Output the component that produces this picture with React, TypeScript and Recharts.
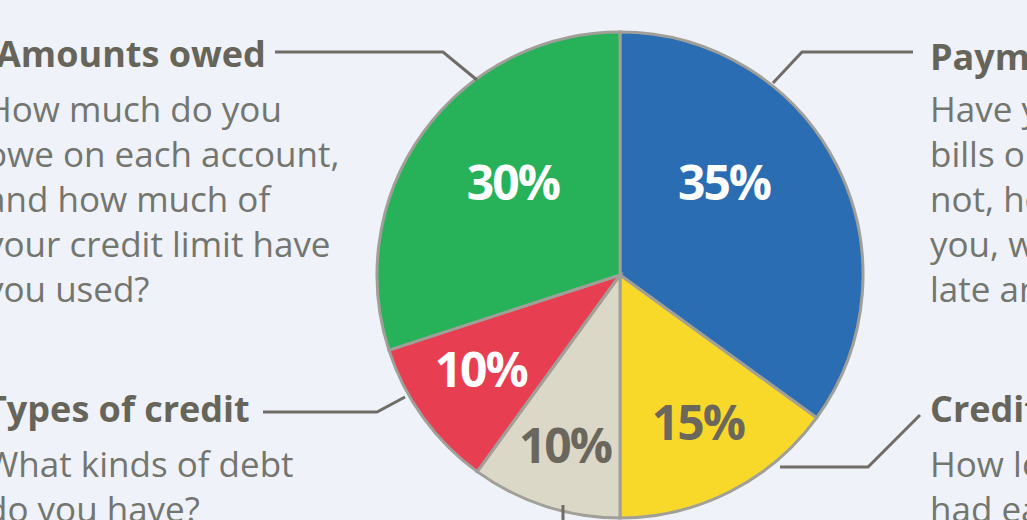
import { PieChart, Pie, Cell } from 'recharts'

// slices, clockwise from 12 o'clock
const categories = ['Payment history', 'Length of credit history', 'New credit', 'Types of credit', 'Amounts owed']
const shares = [35, 15, 10, 10, 30]
const COLORS = ['#2a6db3', '#f8d92a', '#dcd8c8', '#e83e52', '#27b25a']
const LABEL_COLORS = ['#ffffff', '#6b675c', '#6b675c', '#ffffff', '#ffffff']

// label placement tweaks (radius px, clockwise nudge in degrees)
const LABEL_R = [140, 166, 178, 168, 142]
const LABEL_NUDGE = [-15, -1, 0, 2, 5]

const data = categories.map((name, i) => ({ name, value: shares[i] }))

const W = 1027
const H = 520
const CX = 620
const CY = 275

const HEAD = '#67645a'
const BODY = '#73756f'
const LINE = '#6f6d66'

const headStyle = { fontFamily: 'Open Sans', fontWeight: 700, fontSize: 36, fill: HEAD }
const bodyStyle = { fontFamily: 'Open Sans', fontWeight: 400, fontSize: 35, fill: BODY }

const leftTop = ['How much do you', 'owe on each account,', 'and how much of', 'your credit limit have', 'you used?']
const leftBottom = ['What kinds of debt', 'do you have?']
const rightTop = ['Have you paid your', 'bills on time? If', 'not, how late were', 'you, when were you', 'late and how often?']
const rightBottom = ['How long have you', 'had each account?']

const RADIAN = Math.PI / 180

const renderLabel = (props: any) => {
  const { cx, cy, midAngle, index } = props
  const a = midAngle - LABEL_NUDGE[index]
  const r = LABEL_R[index]
  const x = cx + r * Math.cos(-a * RADIAN)
  const y = cy + r * Math.sin(-a * RADIAN)
  return (
    <text
      x={x}
      y={y}
      fill={LABEL_COLORS[index]}
      textAnchor="middle"
      dominantBaseline="central"
      fontFamily="Open Sans"
      fontWeight={700}
      fontSize={48}
      letterSpacing={-2}
    >
      {`${shares[index]}%`}
    </text>
  )
}

export default function App() {
  return (
    <div style={{ position: 'absolute', left: 0, top: 0, width: W, height: H, background: '#eff2f9', overflow: 'hidden' }}>
      <PieChart width={W} height={H} margin={{ top: 0, right: 0, bottom: 0, left: 0 }}>
        <Pie
          data={data}
          dataKey="value"
          cx={CX}
          cy={CY}
          outerRadius={243}
          startAngle={90}
          endAngle={-270}
          stroke="#a09f98"
          strokeWidth={3}
          label={renderLabel}
          labelLine={false}
          isAnimationActive={false}
        >
          {data.map((d, i) => (
            <Cell key={d.name} fill={COLORS[i]} />
          ))}
        </Pie>
      </PieChart>

      {/* captions and leader lines */}
      <svg width={W} height={H} style={{ position: 'absolute', left: 0, top: 0, pointerEvents: 'none' }}>
        <g fill="none" stroke={LINE} strokeWidth={3}>
          <polyline points="275,52 443,52 477,80" />
          <polyline points="773,83 802,52 913,52" />
          <polyline points="780,467 868,467 920,415" />
          <polyline points="263,412 377,412 405,397" />
          <polyline points="563,505 563,520" />
        </g>

        <text x={-4} y={67} style={headStyle}>Amounts owed</text>
        {leftTop.map((t, i) => (
          <text key={t} x={-14} y={122 + i * 45} style={bodyStyle}>{t}</text>
        ))}

        <text x={-14} y={422} style={headStyle}>Types of credit</text>
        {leftBottom.map((t, i) => (
          <text key={t} x={-14} y={477 + i * 45} style={bodyStyle}>{t}</text>
        ))}

        <text x={930} y={70} style={headStyle}>Payment history</text>
        {rightTop.map((t, i) => (
          <text key={t} x={930} y={122 + i * 45} style={bodyStyle}>{t}</text>
        ))}

        <text x={930} y={422} style={headStyle}>Credit history</text>
        {rightBottom.map((t, i) => (
          <text key={t} x={930} y={477 + i * 45} style={bodyStyle}>{t}</text>
        ))}
      </svg>
    </div>
  )
}
